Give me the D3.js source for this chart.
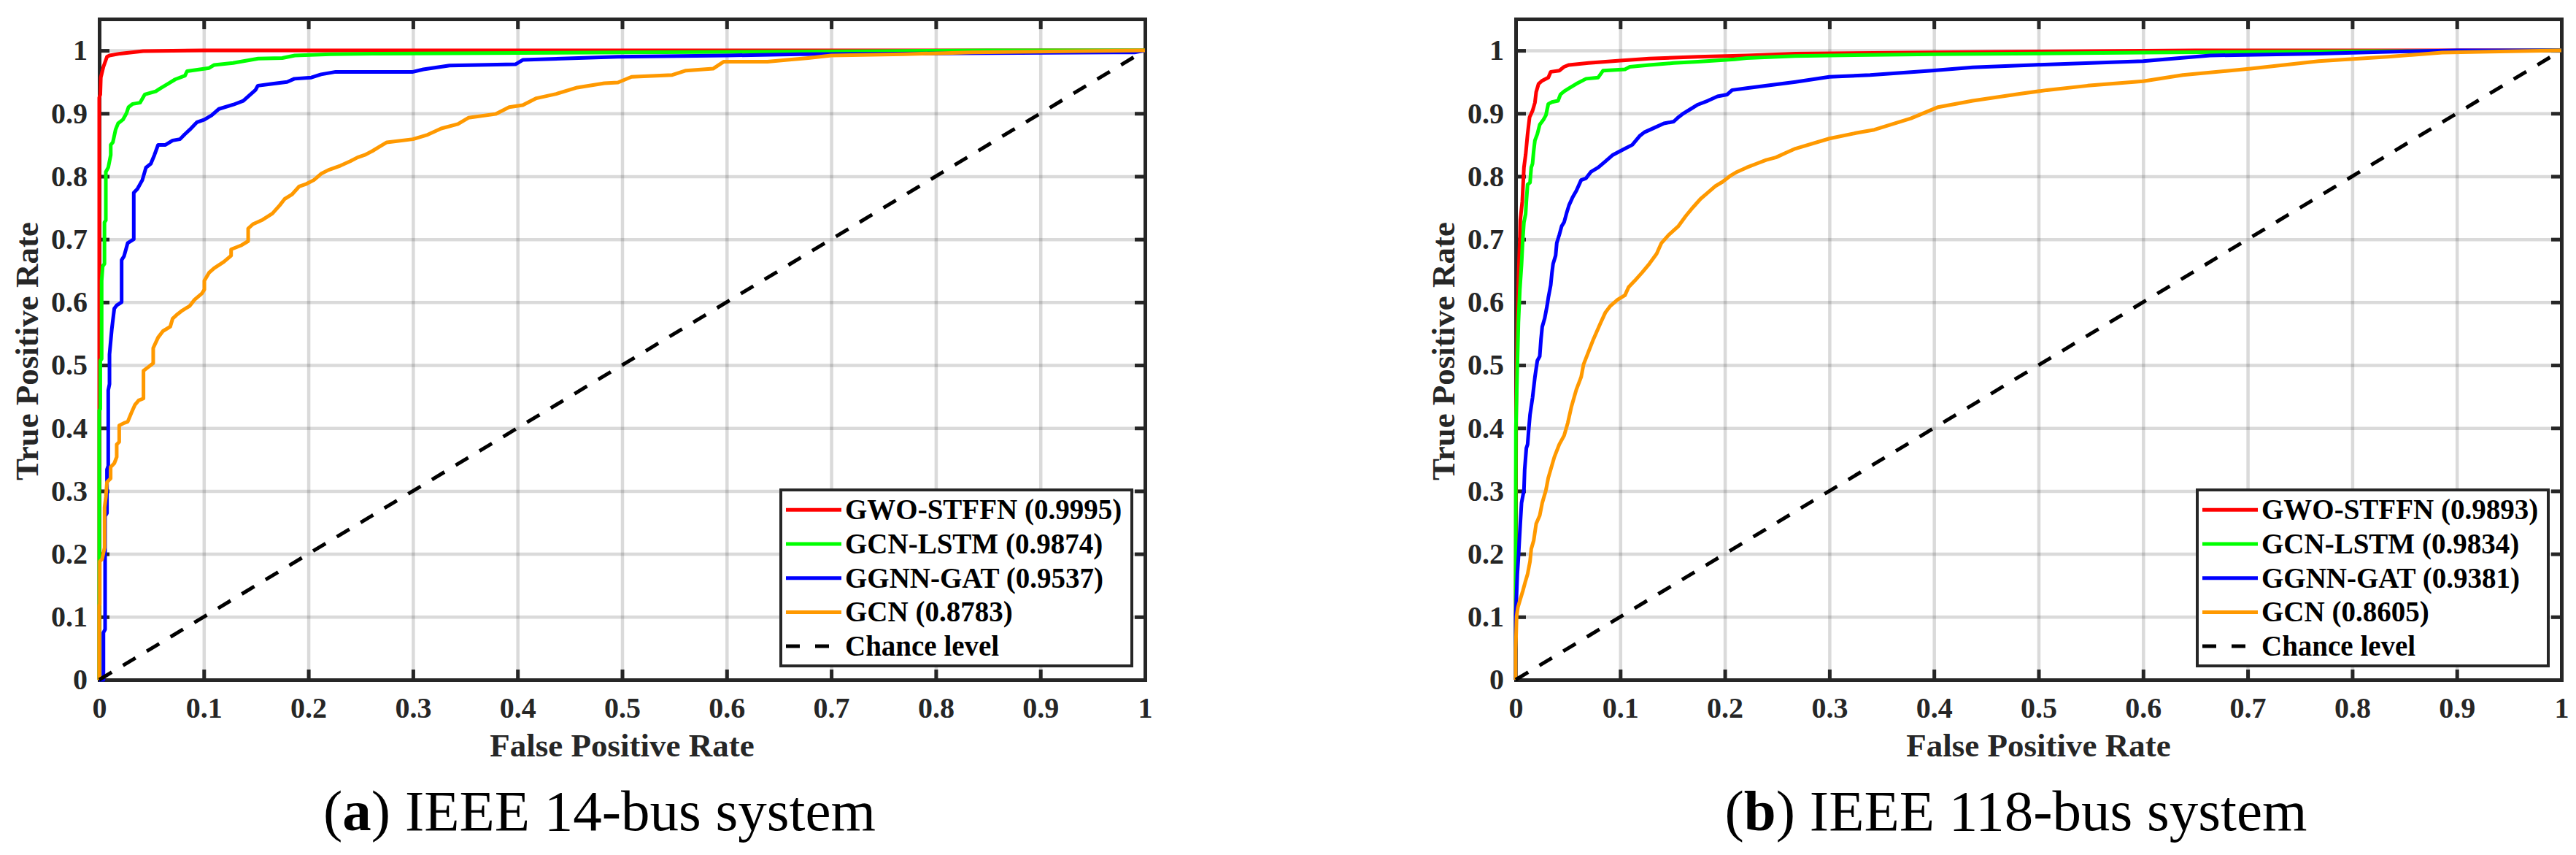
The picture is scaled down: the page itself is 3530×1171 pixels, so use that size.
<!DOCTYPE html>
<html>
<head>
<meta charset="utf-8">
<title>ROC comparison, IEEE 14-bus and 118-bus</title>
<script src="https://cdn.jsdelivr.net/npm/d3@7"></script>
<style type="text/css">
body { margin: 0; background: #fff; }
text { font-family: "Times New Roman", "Liberation Serif", serif; }
.tick text { font-size: 40px; font-weight: bold; fill: #262626; }
.axis .domain { stroke: #262626; stroke-width: 5px; stroke-linecap: square; }
.axis .tick line { stroke: #262626; stroke-width: 5px; }
.grid .domain { display: none; }
.grid .tick line { stroke: #262626; stroke-opacity: 0.17; stroke-width: 4.5px; }
.alabel { font-size: 45px; font-weight: bold; fill: #262626; }
.leg { font-size: 39px; font-weight: bold; fill: #000; }
.caption { font-size: 79px; fill: #000; }
.roc { fill: none; stroke-width: 5px; stroke-linejoin: round; }
</style>
</head>
<body>
<script>

// ---- data ----
var models = ["GWO-STFFN", "GCN-LSTM", "GGNN-GAT", "GCN"];
var auc14  = ["0.9995", "0.9874", "0.9537", "0.8783"];
var auc118 = ["0.9893", "0.9834", "0.9381", "0.8605"];
var ticks  = [0, 0.1, 0.2, 0.3, 0.4, 0.5, 0.6, 0.7, 0.8, 0.9, 1];
var chance = [[0, 0], [1, 1]];

// IEEE 14-bus, [fpr, tpr]
var gwo14 = [[0,0],[0,0.925],[0.001,0.93],[0.0015,0.957],[0.004,0.974],[0.0074,0.99],[0.0098,0.992],
  [0.02,0.995],[0.042,0.999],[0.1,1],[1,1]];
var lstm14 = [[0,0],[0,0.428],[0.001,0.43],[0.001,0.507],[0.0023,0.51],[0.0023,0.634],[0.0033,0.657],
  [0.005,0.661],[0.005,0.727],[0.0063,0.73],[0.0063,0.807],[0.0086,0.814],[0.011,0.834],[0.011,0.85],
  [0.013,0.854],[0.0156,0.874],[0.018,0.884],[0.0226,0.89],[0.026,0.9],[0.028,0.91],[0.032,0.915],
  [0.039,0.917],[0.0435,0.93],[0.054,0.935],[0.0586,0.94],[0.0656,0.947],[0.0726,0.954],[0.082,0.96],
  [0.084,0.967],[0.105,0.972],[0.11,0.977],[0.128,0.98],[0.152,0.987],[0.175,0.988],[0.187,0.992],
  [0.221,0.994],[0.268,0.995],[0.5,0.997],[0.75,0.999],[0.85,1],[1,1]];
var gat14 = [[0,0],[0.004,0],[0.004,0.075],[0.0056,0.08],[0.0056,0.26],[0.0074,0.265],[0.0074,0.334],
  [0.0086,0.34],[0.0086,0.46],[0.0098,0.47],[0.0098,0.517],[0.012,0.557],[0.0144,0.59],[0.0167,0.595],
  [0.0214,0.6],[0.0214,0.667],[0.0237,0.673],[0.0272,0.694],[0.033,0.7],[0.033,0.774],[0.0365,0.78],
  [0.0412,0.794],[0.0447,0.814],[0.0493,0.82],[0.0528,0.834],[0.0563,0.85],[0.0633,0.85],[0.0702,0.857],
  [0.0772,0.859],[0.0819,0.867],[0.0865,0.874],[0.0935,0.886],[0.1005,0.89],[0.1075,0.897],[0.1144,0.907],
  [0.1284,0.914],[0.1377,0.92],[0.1424,0.927],[0.1493,0.937],[0.1517,0.944],[0.1656,0.947],[0.1796,0.95],
  [0.1866,0.955],[0.2028,0.957],[0.2121,0.962],[0.2261,0.966],[0.3,0.966],[0.31,0.97],[0.335,0.976],
  [0.398,0.978],[0.405,0.985],[0.496,0.99],[0.6,0.992],[0.67,0.994],[0.99,0.997],[1,1]];
var gcn14 = [[0,0],[0,0.118],[0.0005,0.12],[0.0005,0.188],[0.0028,0.192],[0.0051,0.21],[0.0051,0.274],
  [0.0063,0.29],[0.0074,0.314],[0.0109,0.32],[0.0109,0.338],[0.0144,0.344],[0.0167,0.354],[0.0167,0.374],
  [0.0191,0.378],[0.0191,0.404],[0.0237,0.408],[0.0272,0.41],[0.0307,0.424],[0.0342,0.437],[0.0377,0.444],
  [0.0423,0.447],[0.0423,0.491],[0.047,0.497],[0.0516,0.503],[0.0516,0.527],[0.0563,0.544],[0.0609,0.554],
  [0.0679,0.561],[0.0702,0.574],[0.0749,0.581],[0.0796,0.587],[0.0865,0.594],[0.0912,0.604],[0.0982,0.614],
  [0.1005,0.62],[0.1005,0.634],[0.1051,0.647],[0.1098,0.654],[0.1191,0.664],[0.1261,0.674],[0.1261,0.684],
  [0.1354,0.69],[0.1424,0.697],[0.1424,0.717],[0.147,0.724],[0.1563,0.731],[0.1656,0.741],[0.1726,0.754],
  [0.1773,0.764],[0.1842,0.771],[0.1912,0.784],[0.1982,0.788],[0.2052,0.794],[0.2121,0.804],[0.2191,0.81],
  [0.2308,0.817],[0.2401,0.824],[0.247,0.83],[0.254,0.834],[0.261,0.84],[0.268,0.847],[0.275,0.854],
  [0.3,0.859],[0.314,0.866],[0.327,0.876],[0.343,0.883],[0.353,0.893],[0.379,0.899],[0.392,0.91],
  [0.405,0.913],[0.418,0.924],[0.437,0.931],[0.457,0.941],[0.483,0.948],[0.496,0.949],[0.509,0.958],
  [0.548,0.961],[0.561,0.968],[0.587,0.971],[0.597,0.982],[0.639,0.982],[0.658,0.985],[0.678,0.988],
  [0.7,0.992],[0.769,0.994],[0.834,0.997],[1,1]];

// IEEE 118-bus, [fpr, tpr]
var gwo118 = [[0,0],[0,0.12],[0.0002,0.25],[0.0003,0.314],[0.0005,0.434],[0.0016,0.567],[0.0026,0.634],
  [0.004,0.7],[0.0044,0.73],[0.0063,0.76],[0.0079,0.814],[0.0095,0.834],[0.0114,0.867],[0.0133,0.894],
  [0.0161,0.904],[0.0184,0.917],[0.0196,0.934],[0.0219,0.947],[0.0254,0.952],[0.0312,0.957],[0.0335,0.966],
  [0.0417,0.968],[0.0463,0.974],[0.051,0.977],[0.0696,0.98],[0.0999,0.984],[0.1278,0.987],[0.1743,0.99],
  [0.2209,0.992],[0.2675,0.995],[0.4,0.997],[0.55,0.999],[0.65,1],[1,1]];
var lstm118 = [[0,0],[0,0.168],[0.0001,0.301],[0.0002,0.4],[0.0016,0.5],[0.0026,0.567],[0.004,0.62],
  [0.0056,0.66],[0.0068,0.7],[0.0079,0.727],[0.0095,0.74],[0.0102,0.76],[0.0114,0.787],[0.0137,0.79],
  [0.0149,0.814],[0.0161,0.82],[0.0172,0.84],[0.0184,0.857],[0.0207,0.867],[0.023,0.882],[0.0265,0.89],
  [0.0289,0.897],[0.0312,0.915],[0.0347,0.918],[0.0405,0.92],[0.0428,0.93],[0.0463,0.935],[0.051,0.94],
  [0.058,0.947],[0.0673,0.955],[0.0789,0.957],[0.0836,0.968],[0.1045,0.97],[0.1092,0.974],[0.1278,0.977],
  [0.1511,0.98],[0.1743,0.982],[0.2093,0.986],[0.2209,0.988],[0.2675,0.991],[0.3,0.992],[0.4,0.994],
  [0.6,0.9966],[0.8,0.9986],[1,1]];
var gat118 = [[0,0],[0,0.101],[0.0016,0.168],[0.0026,0.194],[0.0044,0.248],[0.0056,0.281],[0.0079,0.301],
  [0.0086,0.334],[0.0102,0.368],[0.0114,0.374],[0.0126,0.4],[0.0137,0.421],[0.0161,0.448],[0.0184,0.481],
  [0.0207,0.507],[0.023,0.514],[0.0242,0.541],[0.0254,0.561],[0.0277,0.574],[0.03,0.594],[0.0312,0.607],
  [0.0335,0.627],[0.0347,0.647],[0.0358,0.661],[0.0382,0.674],[0.0393,0.694],[0.0417,0.707],[0.044,0.721],
  [0.0463,0.727],[0.0486,0.741],[0.051,0.754],[0.0545,0.767],[0.058,0.777],[0.0626,0.794],[0.0673,0.797],
  [0.0719,0.807],[0.0789,0.814],[0.0859,0.824],[0.0929,0.834],[0.0975,0.838],[0.1045,0.844],[0.1115,0.85],
  [0.1185,0.864],[0.1231,0.87],[0.1324,0.877],[0.1418,0.884],[0.1511,0.887],[0.1557,0.894],[0.1604,0.9],
  [0.1674,0.907],[0.1743,0.914],[0.1837,0.92],[0.193,0.927],[0.2023,0.93],[0.207,0.937],[0.2209,0.94],
  [0.2442,0.945],[0.2675,0.95],[0.3,0.958],[0.339,0.961],[0.398,0.968],[0.437,0.973],[0.495,0.977],
  [0.6,0.983],[0.664,0.992],[0.768,0.995],[0.853,0.9986],[0.9,1],[1,1]];
var gcn118 = [[0,0],[0,0.048],[0.0009,0.101],[0.0021,0.115],[0.0044,0.128],[0.0068,0.141],[0.0091,0.155],
  [0.0114,0.168],[0.0137,0.188],[0.0149,0.208],[0.0172,0.221],[0.0196,0.248],[0.023,0.261],[0.0254,0.281],
  [0.0289,0.301],[0.0312,0.321],[0.0347,0.341],[0.037,0.354],[0.0417,0.374],[0.0463,0.388],[0.0498,0.408],
  [0.0533,0.434],[0.058,0.461],[0.0626,0.481],[0.0649,0.501],[0.0696,0.521],[0.0743,0.541],[0.0812,0.567],
  [0.0859,0.584],[0.0905,0.594],[0.0975,0.604],[0.1045,0.611],[0.108,0.624],[0.1138,0.634],[0.1208,0.647],
  [0.1278,0.661],[0.1348,0.677],[0.1394,0.694],[0.1464,0.707],[0.1557,0.721],[0.1627,0.737],[0.1697,0.751],
  [0.1767,0.764],[0.1837,0.774],[0.1906,0.784],[0.1976,0.791],[0.2046,0.8],[0.2116,0.807],[0.2209,0.814],
  [0.2302,0.82],[0.2395,0.826],[0.2488,0.83],[0.2581,0.837],[0.2675,0.844],[0.3,0.86],[0.326,0.869],
  [0.343,0.874],[0.378,0.892],[0.404,0.91],[0.437,0.92],[0.482,0.931],[0.508,0.937],[0.547,0.944],
  [0.6,0.951],[0.638,0.961],[0.703,0.971],[0.768,0.983],[0.834,0.99],[0.886,0.9966],[0.931,0.998],[1,1]];

// ---- styling ----
var colors = ["#ff0000", "#00ff00", "#0000ff", "#ff9900"];
var W = 3530, H = 1171;
var plotW = 1433, plotTop = 26, plotBottom = 931;

var svg = d3.select("body").append("svg").attr("width", W).attr("height", H);
svg.append("rect").attr("width", W).attr("height", H).attr("fill", "#fff");

function panel(x0, curves, aucs, letter, captionRest) {
  var g = svg.append("g").attr("transform", "translate(" + x0 + ",0)");
  var x = d3.scaleLinear().domain([0, 1]).range([0, plotW]);
  var y = d3.scaleLinear().domain([0, 1.05]).range([plotBottom, plotTop]);

  // grid
  g.append("g").attr("class", "grid").attr("transform", "translate(0," + plotBottom + ")")
    .call(d3.axisBottom(x).tickValues(ticks).tickSize(-(plotBottom - plotTop)).tickFormat(""));
  g.append("g").attr("class", "grid")
    .call(d3.axisLeft(y).tickValues(ticks).tickSize(-plotW).tickFormat(""));

  // box + inward ticks
  g.append("g").attr("class", "axis").attr("transform", "translate(0," + plotBottom + ")")
    .call(d3.axisBottom(x).tickValues(ticks).tickSize(-14).tickSizeOuter(0).tickPadding(24)
      .tickFormat(d3.format("~g")));
  g.append("g").attr("class", "axis").attr("transform", "translate(0," + plotTop + ")")
    .call(d3.axisTop(x).tickValues(ticks).tickSize(-14).tickSizeOuter(0).tickFormat(""));
  g.append("g").attr("class", "axis")
    .call(d3.axisLeft(y).tickValues(ticks).tickSize(-14).tickSizeOuter(0).tickPadding(16)
      .tickFormat(d3.format("~g")));
  g.append("g").attr("class", "axis").attr("transform", "translate(" + plotW + ",0)")
    .call(d3.axisRight(y).tickValues(ticks).tickSize(-14).tickSizeOuter(0).tickFormat(""));

  // curves
  var line = d3.line().x(function(d){ return x(d[0]); }).y(function(d){ return y(d[1]); });
  curves.forEach(function(c, i){
    g.append("path").attr("class", "roc").attr("d", line(c)).attr("stroke", colors[i]);
  });
  g.append("path").attr("class", "roc").attr("d", line(chance))
    .attr("stroke", "#000").attr("stroke-dasharray", "20,18");

  // axis labels
  g.append("text").attr("class", "alabel").attr("x", plotW / 2).attr("y", 1036)
    .attr("text-anchor", "middle").text("False Positive Rate");
  g.append("text").attr("class", "alabel").attr("text-anchor", "middle")
    .attr("transform", "translate(-84,481) rotate(-90)").text("True Positive Rate");

  // legend
  var lg = g.append("g").attr("transform", "translate(934,671)");
  lg.append("rect").attr("width", 481).attr("height", 241)
    .attr("fill", "#fff").attr("stroke", "#262626").attr("stroke-width", 4);
  var entries = models.map(function(m, i){ return m + " (" + aucs[i] + ")"; }).concat(["Chance level"]);
  entries.forEach(function(t, i){
    var ly = 27.3 + i * 46.7;
    lg.append("line").attr("x1", 7).attr("x2", 83).attr("y1", ly).attr("y2", ly)
      .attr("stroke", i < 4 ? colors[i] : "#000").attr("stroke-width", 5)
      .attr("stroke-dasharray", i < 4 ? null : "19,21");
    lg.append("text").attr("class", "leg").attr("x", 88).attr("y", ly + 13).text(t);
  });

  // caption
  var cap = g.append("text").attr("class", "caption").attr("x", plotW / 2 - 31).attr("y", 1137)
    .attr("text-anchor", "middle");
  cap.append("tspan").text("(");
  cap.append("tspan").attr("font-weight", "bold").text(letter);
  cap.append("tspan").text(captionRest);
}

panel(136, [gwo14, lstm14, gat14, gcn14], auc14, "a", ") IEEE 14-bus system");
panel(2077, [gwo118, lstm118, gat118, gcn118], auc118, "b", ") IEEE 118-bus system");

</script>
</body>
</html>
